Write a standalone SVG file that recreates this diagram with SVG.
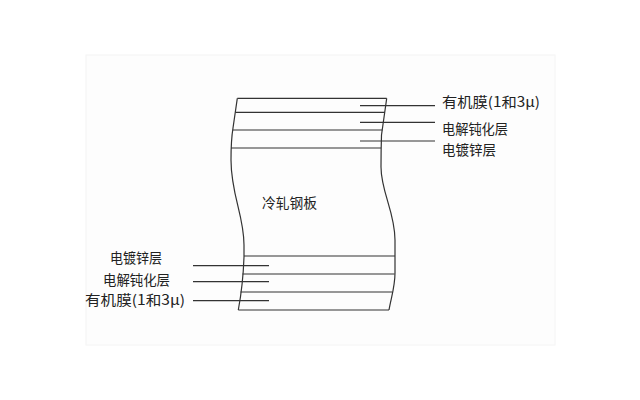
<svg xmlns="http://www.w3.org/2000/svg" width="640" height="400" viewBox="0 0 640 400">
  <style>
    .ln { stroke: #333333; stroke-width: 1.2; fill: none; }
    .lbl { font-family: "Noto Sans CJK SC", "Noto Sans", sans-serif; font-size: 14px; fill: #222222; }
  </style>
  <rect x="0" y="0" width="640" height="400" fill="#ffffff"/>
  <rect id="panel" x="86" y="55" width="469" height="290" fill="#fdfdfd" stroke="#f4f4f4" stroke-width="1"/>

  <g id="plate">
    <path class="ln" d="M237.3,98.3 L386.7,98.3"/>
    <path class="ln" d="M386.7,98.3 L381.5,135 Q381,150 381,167 C381,192 395,212 395,240 L395,273 C395,287 391,298 389,310"/>
    <path class="ln" d="M237.3,98.3 L233,128 Q231,140 231,160 C231,195 244,215 244,245 L244,257 Q243,285 238.3,310"/>
    <path class="ln" d="M238.3,310 L389,310"/>
    <path class="ln" d="M235.3,112.3 L384.8,112.3"/>
    <path class="ln" d="M232.8,130 L382.5,130"/>
    <path class="ln" d="M231,148 L381,148"/>
    <path class="ln" d="M244,256 L395,256"/>
    <path class="ln" d="M242.5,274 L394.6,274"/>
    <path class="ln" d="M240.5,292 L392.3,292"/>
    <text class="lbl" x="262" y="208" textLength="55" lengthAdjust="spacingAndGlyphs">冷轧钢板</text>
  </g>

  <g id="connectors">
    <path class="ln" d="M360,105.7 L435,105.7"/>
    <path class="ln" d="M360,122.3 L435,122.3"/>
    <path class="ln" d="M360,141 L435,141"/>
    <path class="ln" d="M193,265.7 L269,265.7"/>
    <path class="ln" d="M193,281.7 L269,281.7"/>
    <path class="ln" d="M193,300.7 L269,300.7"/>
  </g>

  <g id="label-top-organic"><text class="lbl" x="442" y="107" textLength="98" lengthAdjust="spacingAndGlyphs">有机膜(1和3μ)</text></g>
  <g id="label-top-passivation"><text class="lbl" x="442" y="134" textLength="66" lengthAdjust="spacingAndGlyphs">电解钝化层</text></g>
  <g id="label-top-zinc"><text class="lbl" x="442" y="155" textLength="54" lengthAdjust="spacingAndGlyphs">电镀锌层</text></g>

  <g id="label-bottom-zinc"><text class="lbl" x="110" y="263" textLength="52" lengthAdjust="spacingAndGlyphs">电镀锌层</text></g>
  <g id="label-bottom-passivation"><text class="lbl" x="103" y="284.5" textLength="67" lengthAdjust="spacingAndGlyphs">电解钝化层</text></g>
  <g id="label-bottom-organic"><text class="lbl" x="85" y="305" textLength="100" lengthAdjust="spacingAndGlyphs">有机膜(1和3μ)</text></g>
</svg>
